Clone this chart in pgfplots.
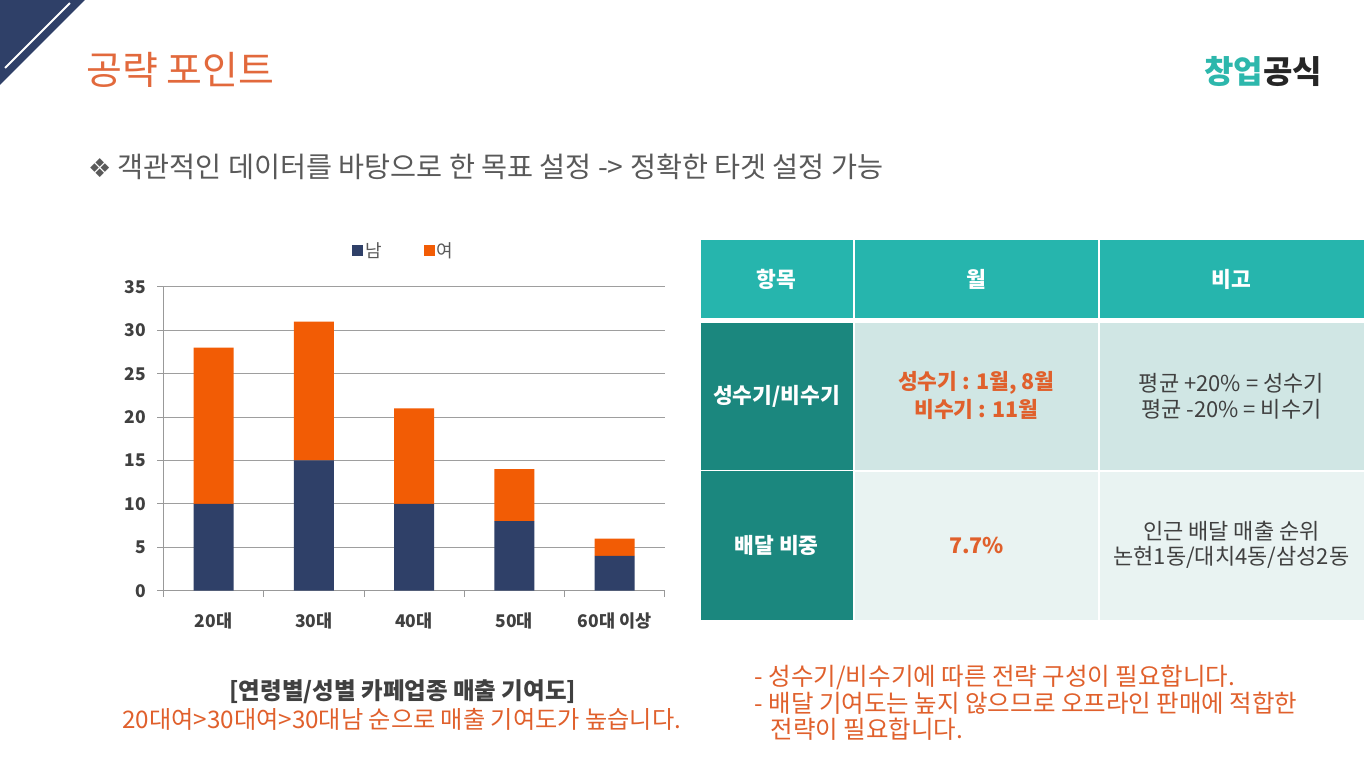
\documentclass[border=0pt]{standalone}
\usepackage{fontspec}
\usepackage{pgfplots}
\pgfplotsset{compat=1.18}
\setmainfont{Noto Sans CJK KR}
\newfontfamily\symfont{DejaVu Sans}

\definecolor{navy}{HTML}{2F4068}
\definecolor{barorange}{HTML}{F25C05}
\definecolor{titleorange}{HTML}{E2693C}
\definecolor{txtorange}{HTML}{E0602C}
\definecolor{tealH}{HTML}{26B5AD}
\definecolor{tealD}{HTML}{1B877E}
\definecolor{rowA}{HTML}{D0E6E4}
\definecolor{rowB}{HTML}{E9F3F2}
\definecolor{logoteal}{HTML}{2DB7AC}
\definecolor{darktxt}{HTML}{404040}
\definecolor{greytxt}{HTML}{595959}

\newcommand{\fs}[1]{\fontsize{#1}{#1}\selectfont}

\begin{document}
\begin{tikzpicture}[x=1pt,y=1pt]
% page
\fill[white] (0,0) rectangle (1365,761);
\fill[navy] (0,761) -- (85,761) -- (0,676) -- cycle;
\draw[white, line width=2pt] (70,758) -- (5,693);

% title and logo
\node[anchor=west, text=titleorange, font=\fs{39}, inner sep=0] at (86,691) {공략 포인트};
\node[anchor=west, font=\fs{32}\bfseries, inner sep=0] at (1205,689)
  {\textcolor{logoteal}{창업}\textcolor{black!85}{공식}};

% subtitle
\node[anchor=west, text=greytxt, font=\fs{28.3}, inner sep=0] at (88,594)
  {{\symfont\fs{26}❖} 객관적인 데이터를 바탕으로 한 목표 설정 -> 정확한 타겟 설정 가능};

% chart
\begin{axis}[
    at={(163.5pt,170pt)}, anchor=south west,
    scale only axis, width=501.5pt, height=304pt,
    ybar stacked, bar width=40pt,
    xmin=-0.5, xmax=4.5, ymin=0, ymax=35,
    xtick={-0.5,0.5,1.5,2.5,3.5,4.5},
    xticklabels={20대,30대,40대,50대,60대 이상},
    x tick label as interval,
    ytick={0,5,...,35},
    axis x line*=bottom, axis y line*=left,
    axis line style={draw=black!40},
    tick align=outside, major tick length=6pt,
    tick style={draw=black!40, line width=0.8pt},
    ymajorgrids, grid style={draw=black!38, line width=0.8pt},
    /pgf/number format/assume math mode=true,
    tick label style={font=\fs{17.5}\bfseries, text=darktxt},
    xticklabel style={yshift=-13pt},
    yticklabel style={xshift=-8pt},
    legend columns=2,
    legend style={draw=none, fill=none, at={(0.48,1.12)}, anchor=center,
      font=\fs{18}, text=greytxt,
      /tikz/every even column/.append style={column sep=40pt}},
    legend image code/.code={\fill[#1,draw=none] (0pt,-5.5pt) rectangle (11pt,5.5pt);},
]
\addplot[fill=navy, draw=none] coordinates {(0,10) (1,15) (2,10) (3,8) (4,4)};
\addlegendentry{남}
\addplot[fill=barorange, draw=none] coordinates {(0,18) (1,16) (2,11) (3,6) (4,2)};
\addlegendentry{여}
\end{axis}

% chart caption
\node[text=darktxt, font=\fs{23.5}\bfseries, inner sep=0] at (403,69) {[연령별/성별 카페업종 매출 기여도]};
\node[text=txtorange, font=\fs{24.2}, inner sep=0] at (402,41) {20대여>30대여>30대남 순으로 매출 기여도가 높습니다.};

% table
\fill[tealH] (701,443) rectangle (1365,521);
\fill[tealD] (701,141) rectangle (853,438);
\fill[rowA] (855,291) rectangle (1365,438);
\fill[rowB] (855,141) rectangle (1365,289);
\draw[white, line width=2pt] (854,443) -- (854,521) (1100,443) -- (1100,521);
\draw[white, line width=2pt] (1100,141) -- (1100,438);
\draw[white, line width=1.5pt] (701,290) -- (1365,290);

\begin{scope}[every node/.style={inner sep=0, font=\fs{21.5}\bfseries, text=white}]
\node at (777,481) {항목};
\node at (977,481) {월};
\node at (1232,481) {비고};
\node at (777,364) {성수기/비수기};
\node at (777,215) {배달 비중};
\end{scope}
\begin{scope}[every node/.style={inner sep=0, font=\fs{21.5}\bfseries, text=txtorange}]
\node at (977,378) {성수기 : 1월, 8월};
\node at (977,351) {비수기 : 11월};
\node at (977,215) {7.7\%};
\end{scope}
\begin{scope}[every node/.style={inner sep=0, font=\fs{22}, text=darktxt}]
\node at (1232,378) {평균 +20\% = 성수기};
\node at (1232,351) {평균 -20\% = 비수기};
\node at (1232,229) {인근 배달 매출 순위};
\node at (1232,203) {논현1동/대치4동/삼성2동};
\end{scope}

% notes
\begin{scope}[every node/.style={inner sep=0, anchor=west, font=\fs{24.5}, text=txtorange}]
\node at (755,83) {- 성수기/비수기에 따른 전략 구성이 필요합니다.};
\node at (755,57) {- 배달 기여도는 높지 않으므로 오프라인 판매에 적합한};
\node at (771,31) {전략이 필요합니다.};
\end{scope}
\end{tikzpicture}
\end{document}
